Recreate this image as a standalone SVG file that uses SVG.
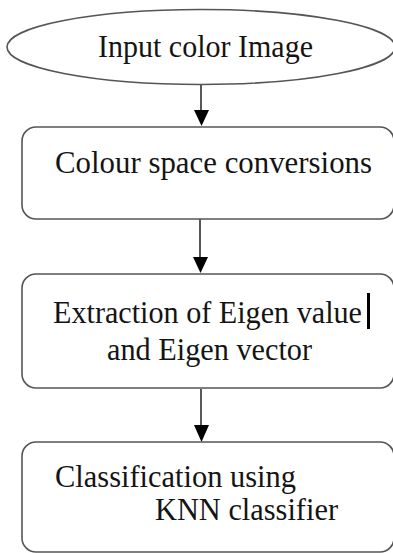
<svg xmlns="http://www.w3.org/2000/svg" width="393" height="553" viewBox="0 0 393 553">
<style>
.box{fill:#fff;stroke:#555;stroke-width:1.6}
.lbl{font-family:'Liberation Serif','DejaVu Serif',serif;font-size:32px;fill:#141414}
.edge{stroke:#111;stroke-width:1.4;fill:none}
.head{fill:#000}
</style>
<rect width="393" height="553" fill="#fff"/>
<g id="connectors">
<line class="edge" x1="201" y1="85" x2="201" y2="110"/>
<path class="head" d="M194,110 L209,110 L201.5,126 Z"/>
<line class="edge" x1="200" y1="219" x2="200" y2="257"/>
<path class="head" d="M193,257 L208,257 L200.5,273 Z"/>
<line class="edge" x1="201" y1="389" x2="201" y2="425"/>
<path class="head" d="M194,425 L209,425 L201.5,442 Z"/>
</g>
<g id="input">
<ellipse class="box" cx="201" cy="47" rx="194" ry="37.5"/>
<text class="lbl" x="98" y="57" textLength="215" lengthAdjust="spacingAndGlyphs">Input color Image</text>
</g>
<g id="colour">
<rect class="box" x="22" y="127" width="372" height="92" rx="14"/>
<text class="lbl" x="55" y="173" textLength="317" lengthAdjust="spacingAndGlyphs">Colour space conversions</text>
</g>
<g id="eigen">
<rect class="box" x="22" y="274" width="372" height="114" rx="14"/>
<text class="lbl" x="53" y="323" textLength="309" lengthAdjust="spacingAndGlyphs">Extraction of Eigen value</text>
<text class="lbl" x="107" y="360" textLength="205" lengthAdjust="spacingAndGlyphs">and Eigen vector</text>
<rect x="367" y="293" width="3" height="36" fill="#000"/>
</g>
<g id="knn">
<rect class="box" x="22" y="442" width="372" height="110" rx="14"/>
<text class="lbl" x="55" y="487" textLength="241" lengthAdjust="spacingAndGlyphs">Classification using</text>
<text class="lbl" x="155" y="520" textLength="183" lengthAdjust="spacingAndGlyphs">KNN classifier</text>
</g>
</svg>
